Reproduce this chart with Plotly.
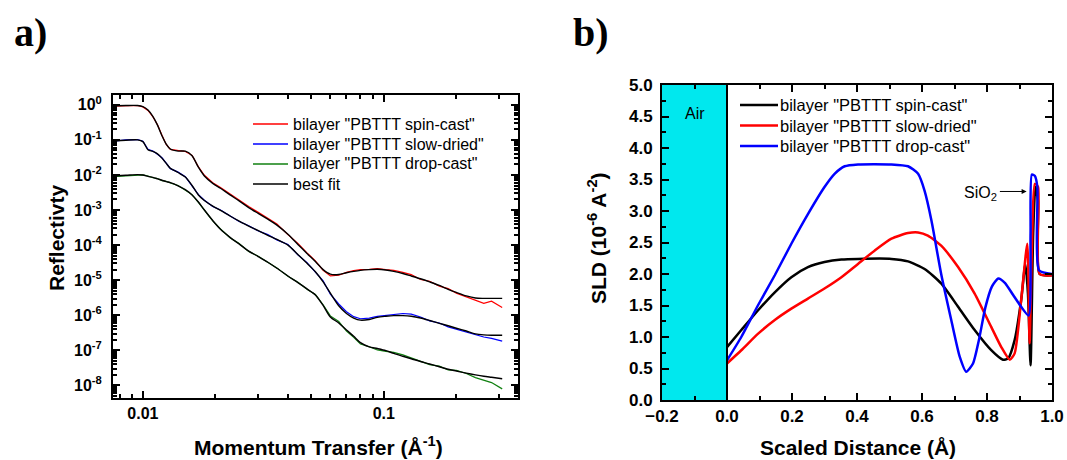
import numpy as np
import plotly.graph_objects as go

# ---------------- Panel a: reflectivity ----------------
q = [0.0075, 0.0085, 0.0095, 0.0100, 0.0105, 0.0110, 0.0115, 0.0120, 0.0125, 0.0130,
     0.0140, 0.0150, 0.0160, 0.0170, 0.0180, 0.0195, 0.0210, 0.0230, 0.0250, 0.0275,
     0.0300, 0.0330, 0.0360, 0.0400, 0.0440, 0.0480, 0.0520, 0.0560, 0.0600, 0.0650,
     0.0700, 0.0750, 0.0800, 0.0870, 0.0940, 0.1020, 0.1100, 0.1200, 0.1300, 0.1420,
     0.1550, 0.1700, 0.1850, 0.2000, 0.2200, 0.2400, 0.2600, 0.2800, 0.3100]

# log10(reflectivity)
spin_fit_log = [-0.03, -0.02, -0.02, -0.05, -0.15, -0.33, -0.58, -0.88, -1.12, -1.26,
                -1.32, -1.32, -1.45, -1.78, -2.03, -2.24, -2.38, -2.57, -2.73, -2.93,
                -3.09, -3.26, -3.43, -3.69, -3.98, -4.24, -4.47, -4.70, -4.83, -4.84,
                -4.79, -4.75, -4.72, -4.70, -4.69, -4.71, -4.75, -4.81, -4.88, -4.96,
                -5.05, -5.15, -5.26, -5.35, -5.45, -5.51, -5.52, -5.52, -5.52]
spin_data_log = [-0.04, -0.03, -0.02, -0.06, -0.16, -0.34, -0.57, -0.87, -1.13, -1.27,
                 -1.31, -1.33, -1.44, -1.77, -2.01, -2.22, -2.36, -2.55, -2.70, -2.90,
                 -3.06, -3.24, -3.40, -3.70, -3.95, -4.22, -4.45, -4.72, -4.88, -4.86,
                 -4.78, -4.73, -4.70, -4.69, -4.67, -4.70, -4.72, -4.78, -4.84, -4.98,
                 -5.03, -5.17, -5.24, -5.37, -5.47, -5.58, -5.66, -5.60, -5.78]

slow_fit_log = [-1.03, -1.01, -1.00, -1.05, -1.28, -1.33, -1.40, -1.52, -1.67, -1.81,
                -1.93, -2.06, -2.30, -2.57, -2.73, -2.89, -3.01, -3.17, -3.31, -3.46,
                -3.58, -3.72, -3.84, -4.00, -4.27, -4.52, -4.76, -5.05, -5.37, -5.73,
                -5.95, -6.08, -6.14, -6.12, -6.06, -6.03, -6.01, -6.01, -6.03, -6.08,
                -6.15, -6.23, -6.30, -6.37, -6.45, -6.53, -6.56, -6.57, -6.57]
slow_data_log = [-1.04, -1.00, -0.99, -1.04, -1.27, -1.32, -1.41, -1.51, -1.66, -1.82,
                 -1.92, -2.05, -2.31, -2.56, -2.72, -2.90, -3.00, -3.16, -3.32, -3.45,
                 -3.59, -3.70, -3.85, -3.98, -4.28, -4.50, -4.78, -5.02, -5.40, -5.68,
                 -5.90, -6.04, -6.10, -6.08, -6.03, -6.00, -5.98, -5.95, -5.97, -6.05,
                 -6.16, -6.22, -6.33, -6.40, -6.47, -6.57, -6.62, -6.66, -6.74]

drop_fit_log = [-2.03, -2.01, -1.99, -2.00, -2.04, -2.07, -2.11, -2.15, -2.19, -2.22,
                -2.31, -2.42, -2.57, -2.77, -3.00, -3.30, -3.55, -3.78, -3.96, -4.17,
                -4.32, -4.49, -4.66, -4.88, -5.07, -5.25, -5.42, -5.72, -6.05, -6.22,
                -6.42, -6.60, -6.78, -6.90, -6.95, -7.01, -7.09, -7.17, -7.24, -7.32,
                -7.39, -7.47, -7.54, -7.59, -7.65, -7.70, -7.74, -7.77, -7.81]
drop_data_log = [-2.05, -2.02, -2.00, -2.00, -2.03, -2.08, -2.10, -2.16, -2.18, -2.23,
                 -2.30, -2.43, -2.56, -2.78, -2.99, -3.31, -3.54, -3.79, -3.95, -4.18,
                 -4.31, -4.50, -4.65, -4.89, -5.06, -5.26, -5.41, -5.70, -6.02, -6.18,
                 -6.45, -6.63, -6.82, -6.90, -6.99, -7.03, -7.06, -7.13, -7.22, -7.30,
                 -7.41, -7.45, -7.56, -7.57, -7.66, -7.78, -7.86, -7.92, -8.10]

a_names = ['bilayer "PBTTT spin-cast"', 'bilayer "PBTTT slow-dried"',
           'bilayer "PBTTT drop-cast"', 'best fit']
a_colors = ["#FF0000", "#0000FF", "#108010", "#000000"]

y_tick_exp = [0, -1, -2, -3, -4, -5, -6, -7, -8]
x_tick_vals_a = [0.01, 0.1]
x_tick_text_a = ["0.01", "0.1"]

# ---------------- Panel b: SLD profiles ----------------
spin_x = [0.0, 0.044, 0.095, 0.147, 0.198, 0.249, 0.300, 0.352, 0.403, 0.506, 0.557,
          0.608, 0.659, 0.711, 0.762, 0.813, 0.849, 0.865, 0.885, 0.905, 0.918, 0.926,
          0.934, 0.942, 0.949, 0.957, 0.962, 1.0]
spin_sld = [0.84, 1.11, 1.42, 1.71, 1.95, 2.11, 2.19, 2.23, 2.24, 2.24, 2.20,
            2.08, 1.85, 1.48, 1.11, 0.79, 0.64, 0.66, 0.95, 1.58, 2.16, 1.69,
            0.55, 2.64, 3.38, 3.16, 2.00, 1.98]

slow_x = [0.0, 0.044, 0.095, 0.147, 0.198, 0.249, 0.300, 0.352, 0.403, 0.454, 0.506,
          0.557, 0.588, 0.618, 0.659, 0.711, 0.762, 0.813, 0.844, 0.870, 0.885, 0.905,
          0.924, 0.931, 0.938, 0.947, 0.957, 0.962, 1.0]
slow_sld = [0.58, 0.79, 1.05, 1.27, 1.45, 1.61, 1.77, 1.95, 2.16, 2.37, 2.56,
            2.65, 2.66, 2.61, 2.45, 2.11, 1.69, 1.16, 0.84, 0.64, 0.74, 1.58,
            2.48, 0.90, 2.37, 3.43, 3.38, 2.00, 1.98]

drop_x = [0.0, 0.044, 0.095, 0.147, 0.198, 0.249, 0.300, 0.331, 0.362, 0.403, 0.506,
          0.557, 0.588, 0.608, 0.629, 0.659, 0.690, 0.716, 0.736, 0.757, 0.775, 0.795,
          0.815, 0.835, 0.855, 0.880, 0.905, 0.928, 0.934, 0.938, 0.947, 0.955, 0.960, 1.0]
drop_sld = [0.63, 1.00, 1.50, 1.98, 2.48, 2.95, 3.38, 3.59, 3.71, 3.74, 3.74,
            3.71, 3.59, 3.32, 2.85, 2.00, 1.27, 0.69, 0.45, 0.58, 0.95, 1.47,
            1.80, 1.93, 1.86, 1.67, 1.48, 1.34, 2.64, 3.58, 3.56, 3.38, 2.06, 2.00]

b_names = ['bilayer "PBTTT spin-cast"', 'bilayer "PBTTT slow-dried"',
           'bilayer "PBTTT drop-cast"']
b_colors = ["#000000", "#FF0000", "#0000FF"]

FONT = "Liberation Sans, Arial, sans-serif"
W, H = 1067, 460


def px_x(v):
    return v / W


def px_y(v):
    return 1 - v / H


fig = go.Figure()

# data traces (panel a)
for name, col, ylog in zip(a_names[:3], a_colors[:3],
                           [spin_data_log, slow_data_log, drop_data_log]):
    fig.add_trace(go.Scatter(x=q, y=np.power(10.0, ylog), mode="lines", name=name,
                             line=dict(color=col, width=1.2), xaxis="x", yaxis="y"))
# fits (panel a)
for ylog in [spin_fit_log, slow_fit_log, drop_fit_log]:
    fig.add_trace(go.Scatter(x=q, y=np.power(10.0, ylog), mode="lines", name=a_names[3],
                             line=dict(color="black", width=1.4, shape="spline", smoothing=0.8),
                             xaxis="x", yaxis="y"))

# panel b
for name, col, xs, ys in zip(b_names, b_colors, [spin_x, slow_x, drop_x],
                             [spin_sld, slow_sld, drop_sld]):
    fig.add_trace(go.Scatter(x=xs, y=ys, mode="lines", name=name,
                             line=dict(color=col, width=2.5, shape="spline", smoothing=0.6),
                             xaxis="x2", yaxis="y2"))

minor_x_a = [0.008, 0.009] + [m * 0.01 for m in range(2, 10)] + [0.2, 0.3]
minor_y_a = [m * 10.0 ** e for e in range(-9, 1) for m in range(2, 10)]

axis_common = dict(showline=True, linecolor="black", linewidth=2, mirror="allticks",
                   ticks="inside", tickcolor="black", tickwidth=2, showgrid=False,
                   zeroline=False, automargin=False, layer="above traces")

title_font = dict(family=FONT, size=21, color="black", weight="bold")

# hand-made legends (rows spaced as in the reference)
shapes = [dict(type="rect", xref="x2", yref="y2", x0=-0.2, x1=0.0, y0=0, y1=5,
               fillcolor="#00E8EE", line=dict(width=0), layer="below"),
          dict(type="line", xref="x2", yref="y2", x0=0.0, x1=0.0, y0=0, y1=5,
               line=dict(color="black", width=2))]
annotations = []
for i, (name, col) in enumerate(zip(a_names, a_colors)):
    yy = 124 + 20 * i
    shapes.append(dict(type="line", xref="paper", yref="paper", x0=px_x(253), x1=px_x(288),
                       y0=px_y(yy), y1=px_y(yy), line=dict(color=col, width=1.5)))
    annotations.append(dict(text=name, x=px_x(291), y=px_y(yy), xref="paper", yref="paper",
                            xanchor="left", yanchor="middle", showarrow=False,
                            font=dict(family=FONT, size=16, color="black")))
for i, (name, col) in enumerate(zip(b_names, b_colors)):
    yy = 105 + 20.5 * i
    shapes.append(dict(type="line", xref="paper", yref="paper", x0=px_x(740), x1=px_x(778),
                       y0=px_y(yy), y1=px_y(yy), line=dict(color=col, width=2.5)))
    annotations.append(dict(text=name, x=px_x(778), y=px_y(yy), xref="paper", yref="paper",
                            xanchor="left", yanchor="middle", showarrow=False,
                            font=dict(family=FONT, size=16.5, color="black")))

annotations += [
    dict(text="<b>a)</b>", x=px_x(12), y=px_y(32), xref="paper", yref="paper",
         xanchor="left", yanchor="middle", showarrow=False,
         font=dict(family="Liberation Serif, Times New Roman, serif", size=40, color="black")),
    dict(text="<b>b)</b>", x=px_x(571), y=px_y(32), xref="paper", yref="paper",
         xanchor="left", yanchor="middle", showarrow=False,
         font=dict(family="Liberation Serif, Times New Roman, serif", size=40, color="black")),
    dict(text="Air", x=-0.135, y=4.55, xref="x2", yref="y2", xanchor="left",
         showarrow=False, font=dict(family=FONT, size=16, color="black")),
    dict(text="SiO<sub>2</sub>", x=0.78, y=3.28, xref="x2", yref="y2",
         showarrow=False, font=dict(family=FONT, size=16, color="black")),
    dict(text="", x=0.922, y=3.31, ax=0.835, ay=3.31, xref="x2", yref="y2",
         axref="x2", ayref="y2", showarrow=True, arrowhead=2, arrowsize=1,
         arrowwidth=1, arrowcolor="black"),
    # axis titles
    dict(text="Momentum Transfer (Å<sup>-1</sup>)", x=px_x(318), y=px_y(446),
         xref="paper", yref="paper", xanchor="center", yanchor="middle",
         showarrow=False, font=title_font),
    dict(text="Reflectivty", x=px_x(56), y=px_y(238), xref="paper", yref="paper",
         xanchor="center", yanchor="middle", textangle=-90, showarrow=False,
         font=title_font),
    dict(text="Scaled Distance (Å)", x=px_x(858), y=px_y(447),
         xref="paper", yref="paper", xanchor="center", yanchor="middle",
         showarrow=False, font=title_font),
    dict(text="SLD (10<sup>-6</sup> A<sup>-2</sup>)", x=px_x(597), y=px_y(238),
         xref="paper", yref="paper", xanchor="center", yanchor="middle",
         textangle=-90, showarrow=False, font=title_font),
]

fig.update_layout(
    width=W, height=H,
    margin=dict(l=0, r=0, t=0, b=0, autoexpand=False),
    paper_bgcolor="white", plot_bgcolor="white",
    showlegend=False,
    xaxis=dict(domain=[px_x(113), px_x(518)], type="log", range=[-2.124, -0.443],
               tickvals=x_tick_vals_a, ticktext=x_tick_text_a, ticklen=7,
               minor=dict(tickvals=minor_x_a, ticks="inside", ticklen=4, tickcolor="black",
                          tickwidth=1.5),
               tickfont=dict(family=FONT, size=16, color="black", weight="bold"),
               anchor="y", **axis_common),
    yaxis=dict(domain=[px_y(398), px_y(95)], type="log", range=[-8.36, 0.28],
               tickvals=[10.0 ** e for e in y_tick_exp],
               ticktext=["10<sup>%d</sup>" % e for e in y_tick_exp], ticklen=7,
               minor=dict(tickvals=minor_y_a, ticks="inside", ticklen=4, tickcolor="black",
                          tickwidth=1.5),
               ticklabelstandoff=6,
               tickfont=dict(family=FONT, size=16, color="black", weight="bold"),
               anchor="x", **axis_common),
    xaxis2=dict(domain=[px_x(662), px_x(1052)], range=[-0.2, 1.0], dtick=0.2,
                tick0=-0.2, tickformat=".1f", ticklen=7,
                minor=dict(dtick=0.1, ticks="inside", ticklen=4, tickcolor="black",
                           tickwidth=1.5),
                tickfont=dict(family=FONT, size=17, color="black", weight="bold"),
                anchor="y2", **axis_common),
    yaxis2=dict(domain=[px_y(400), px_y(85)], range=[0, 5.0], dtick=0.5,
                tickformat=".1f", ticklen=7,
                minor=dict(dtick=0.25, ticks="inside", ticklen=4, tickcolor="black",
                           tickwidth=1.5),
                ticklabelstandoff=4,
                tickfont=dict(family=FONT, size=17, color="black", weight="bold"),
                anchor="x2", **axis_common),
    shapes=shapes,
    annotations=annotations,
)

# remove the page's default 8px body margin so the 1067x460 figure fills the window
fig.write_html("out.html",
               config={"displayModeBar": False},
               post_script="document.body.style.margin='0';"
                           "document.body.style.overflow='hidden';")
